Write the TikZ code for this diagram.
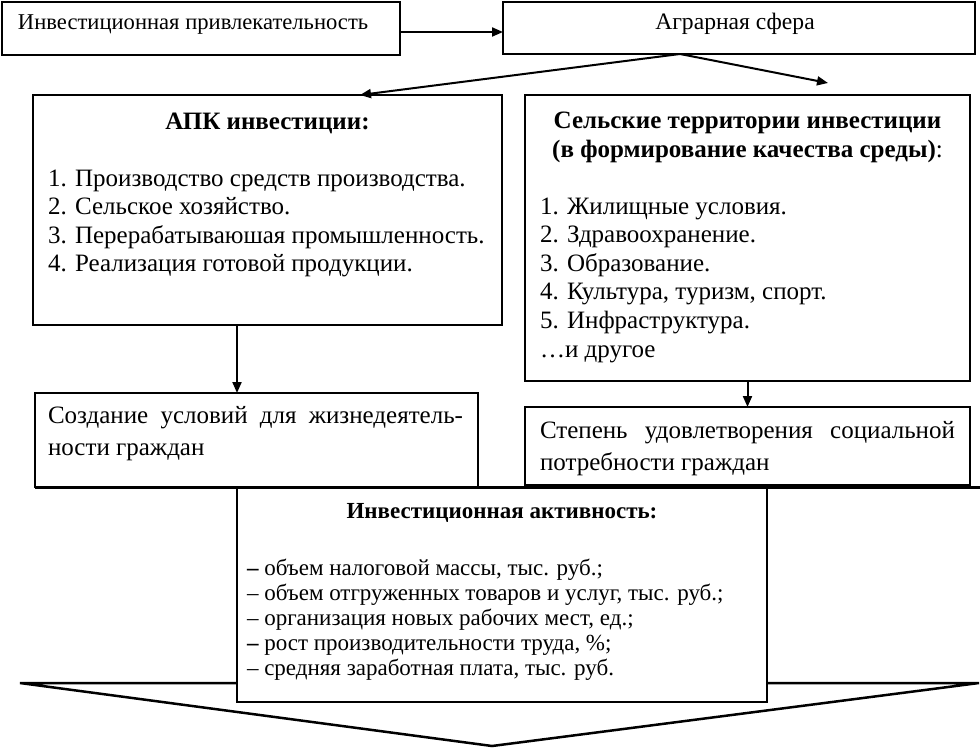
\documentclass[tikz,border=0pt]{standalone}
\usepackage{fontspec}
\setmainfont{Liberation Serif}
\usetikzlibrary{arrows.meta}
\tikzset{
  box/.style={draw, line width=0.75pt, anchor=north west, inner sep=0pt, outer sep=0pt},
  txt/.style={inner sep=0pt, outer sep=0pt, align=left},
  arr/.style={line width=1pt, -{Triangle[length=5.5pt,width=4.5pt]}},
  fsmall/.style={font=\fontsize{11.3}{13}\selectfont},
  fagr/.style={font=\fontsize{11.8}{13}\selectfont},
  fmain/.style={font=\fontsize{12.5}{14.3}\selectfont},
  fsoz/.style={font=\fontsize{12.5}{16}\selectfont},
  fact/.style={font=\fontsize{11.5}{12.5}\selectfont},
}
\begin{document}
\begin{tikzpicture}[x=0.5pt,y=-0.5pt]
\useasboundingbox (0,0) rectangle (980,749);
% boxes
\node[box, minimum width=199pt, minimum height=26.5pt] (inv) at (2,2) {};
\node[box, minimum width=236pt, minimum height=26pt] (agr) at (503,2) {};
\node[box, minimum width=234.5pt, minimum height=115pt] (apk) at (33,95) {};
\node[box, minimum width=222.5pt, minimum height=143pt] (sel) at (525,95) {};
\node[box, minimum width=221.5pt, minimum height=47pt] (soz) at (35,393) {};
\node[box, minimum width=222.5pt, minimum height=39pt] (stp) at (525,407) {};
\node[box, minimum width=265pt, minimum height=107pt] (act) at (237,488) {};
% texts (base anchor of a multi-line node = baseline of its last line)
\node[txt, fsmall, anchor=base west] (invt) at (18,30) {Инвестиционная привлекательность};
\node[txt, fagr, anchor=base] (agrt) at (735,30) {Аграрная сфера};
\node[txt, fmain, anchor=base] (apkh) at (267.5,130) {\textbf{АПК инвестиции:}};
\node[txt, fmain, anchor=base west] (apkl) at (48,271.8) {1. Производство средств производства.\\2. Сельское хозяйство.\\3. Перерабатываюшая промышленность.\\4. Реализация готовой продукции.};
\node[txt, fmain, anchor=base, align=center] (selh) at (747.5,157) {\textbf{Сельские территории инвестиции}\\\textbf{(в формирование качества среды)}:};
\node[txt, fmain, anchor=base west] (sell) at (540,357) {1. Жилищные условия.\\2. Здравоохранение.\\3. Образование.\\4. Культура, туризм, спорт.\\5. Инфраструктура.\\…и другое};
\node[txt, fsoz, anchor=base west] (sozt) at (48,455) {\makebox[207.5pt][s]{Создание условий для жизнедеятель-}\\ности граждан};
\node[txt, fsoz, anchor=base west] (stpt) at (540,470) {\makebox[207.5pt][s]{Степень удовлетворения социальной}\\потребности граждан};
\node[txt, fact, anchor=base] (acth) at (502,518) {\textbf{Инвестиционная активность:}};
\node[txt, fact, anchor=base west] (actl) at (247,675) {{\bfseries –} объем налоговой массы, тыс. руб.;\\– объем отгруженных товаров и услуг, тыс. руб.;\\– организация новых рабочих мест, ед.;\\{\bfseries –} рост производительности труда, \%;\\– средняя заработная плата, тыс. руб.};
% thick separator line
\coordinate (lr) at (980,487);
\draw[line width=1.5pt] (soz.south west) -- (lr);
% chevron
\coordinate (chl) at (20,683);
\coordinate (chr) at (979,683);
\coordinate (tip) at (492,746);
\draw[line width=1.25pt] (act.west |- chl) -- (chl) -- (tip) -- (chr) -- (act.east |- chr);
% connectors
\coordinate (ia) at (0,32);
\draw[arr] (inv.east |- ia) -- (agr.west |- ia);
\coordinate (split) at (680,54);
\coordinate (apkin) at (360,95);
\coordinate (selin) at (828,83);
\draw[arr] (split) -- (apkin);
\draw[arr] (split) -- (selin);
\coordinate (ax) at (237,0);
\draw[arr] (apk.south -| ax) -- (soz.north -| ax);
\draw[arr] (sel.south) -- (stp.north);
\end{tikzpicture}
\end{document}
